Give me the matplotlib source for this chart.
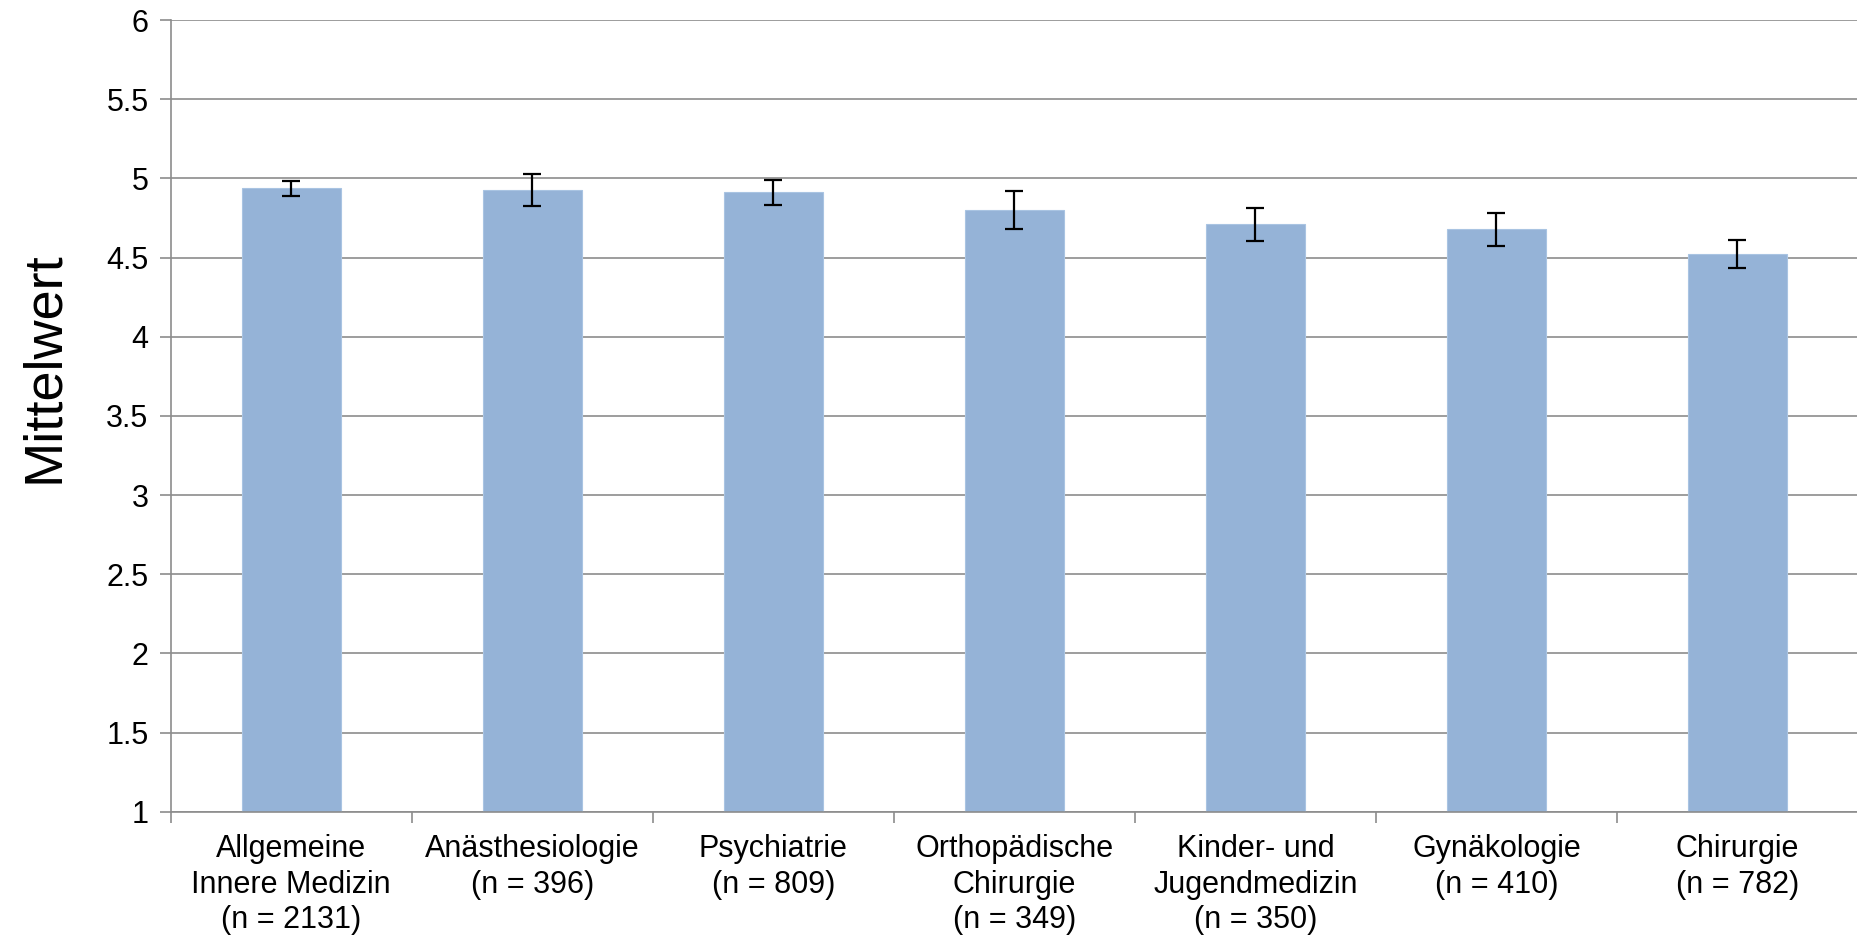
import matplotlib
matplotlib.use("Agg")
from matplotlib import pyplot as plt
import numpy as np

# data
categories = [
    "Allgemeine\nInnere Medizin\n(n = 2131)",
    "Anästhesiologie\n(n = 396)",
    "Psychiatrie\n(n = 809)",
    "Orthopädische\nChirurgie\n(n = 349)",
    "Kinder- und\nJugendmedizin\n(n = 350)",
    "Gynäkologie\n(n = 410)",
    "Chirurgie\n(n = 782)",
]
means = [4.936, 4.925, 4.912, 4.80, 4.71, 4.677, 4.521]
errors = [0.045, 0.10, 0.08, 0.117, 0.104, 0.107, 0.088]
y_ticks = [1, 1.5, 2, 2.5, 3, 3.5, 4, 4.5, 5, 5.5, 6]

plt.rcParams['font.family'] = ['Liberation Sans', 'DejaVu Sans']

fig = plt.figure(figsize=(18.58, 9.39), dpi=100)
ax = fig.add_axes([0.0919, 0.1356, 0.9081, 0.8431])

x = np.arange(len(categories))
ax.bar(x, np.array(means) - 1, bottom=1, width=0.41, color='#95B3D7',
       edgecolor='#A9C4E2', linewidth=0.8, zorder=2)
ax.errorbar(x, means, yerr=errors, fmt='none', ecolor='black',
            elinewidth=1.6, capsize=6.5, capthick=1.6, zorder=3)

ax.set_xlim(-0.5, len(categories) - 0.5)
ax.set_ylim(1, 6)
ax.set_yticks(y_ticks)
ax.set_yticklabels(['%g' % v for v in y_ticks])
ax.yaxis.grid(True, color='#8C8C8C', linewidth=1.2, zorder=0)
ax.set_axisbelow(True)

# ticks between categories, labels centered under bars
ax.set_xticks(np.arange(len(categories) + 1) - 0.5)
ax.set_xticklabels([])
ax.set_xticks(x, minor=True)
ax.set_xticklabels(categories, minor=True, fontsize=22, linespacing=1.25)
ax.tick_params(axis='x', which='minor', length=0, pad=16)
ax.tick_params(axis='x', which='major', length=8, width=1.2, color='#8C8C8C')
ax.tick_params(axis='y', length=8, width=1.2, color='#8C8C8C', labelsize=22, pad=8)

for side in ['top', 'right']:
    ax.spines[side].set_visible(False)
for side in ['left', 'bottom']:
    ax.spines[side].set_color('#8C8C8C')
    ax.spines[side].set_linewidth(1.2)

# label sits a bit above the axis centre in the original
ax.set_ylabel("Mittelwert", fontsize=39, labelpad=27, y=0.562)

fig.savefig("out.png", dpi=100)
